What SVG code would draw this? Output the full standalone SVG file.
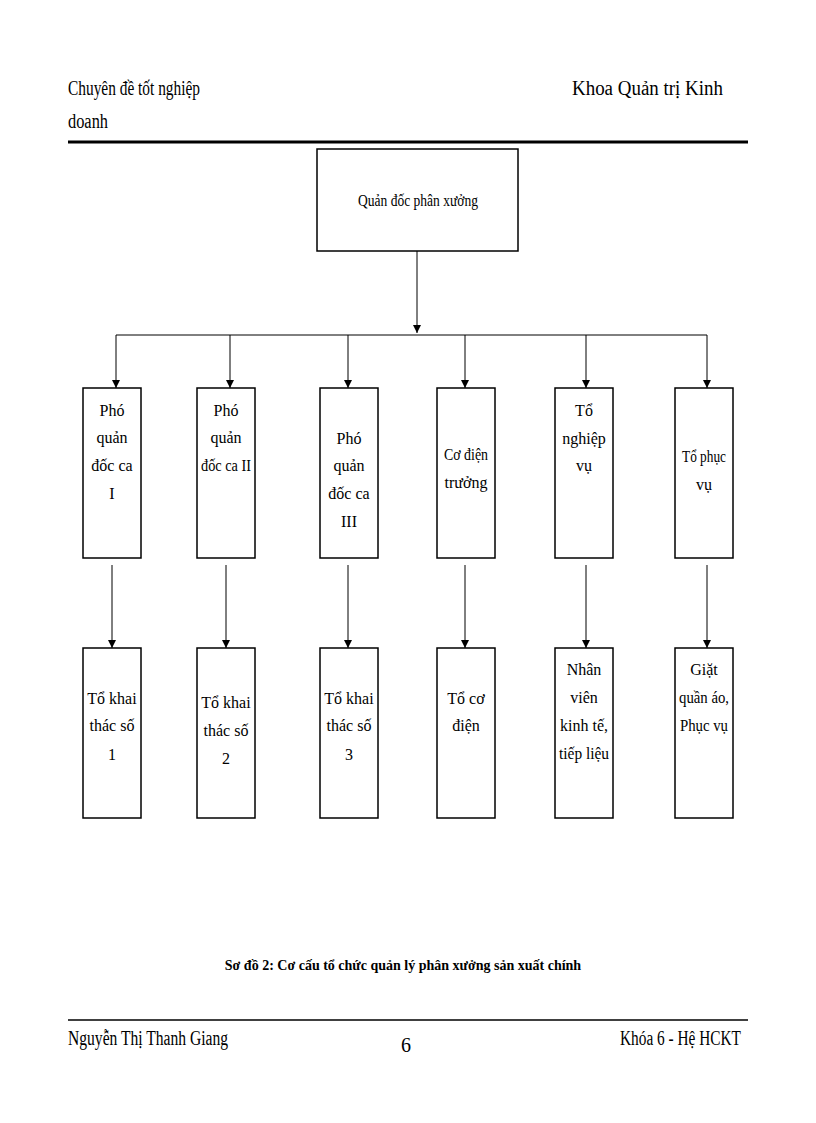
<svg xmlns="http://www.w3.org/2000/svg" width="816" height="1123" viewBox="0 0 816 1123">
<style>
text{font-family:"Liberation Serif","Times New Roman",serif;fill:#000}
.h{font-size:20px}
.n{font-size:16px;text-anchor:middle}
rect{fill:#fff;stroke:#000;stroke-width:1.5}
.c line{stroke:#000;stroke-width:1}
</style>
<defs>
<marker id="b" markerWidth="8" markerHeight="10" refX="8" refY="4" orient="auto" markerUnits="userSpaceOnUse"><path d="M0,0L8,4L0,8z" fill="#000"/></marker></defs>
<text class="h" x="68" y="95" textLength="132" lengthAdjust="spacingAndGlyphs">Chuyên đề tốt nghiệp</text>
<text class="h" x="68" y="128" textLength="40" lengthAdjust="spacingAndGlyphs">doanh</text>
<text class="h" x="572" y="95" textLength="151" lengthAdjust="spacingAndGlyphs">Khoa Quản trị Kinh</text>
<line x1="68" y1="142" x2="748" y2="142" stroke="#000" stroke-width="3"/>
<g class="c">
<line x1="417" y1="251" x2="417" y2="333" marker-end="url(#b)"/>
<line x1="116" y1="335" x2="707" y2="335" stroke-width="2"/>
<line x1="116" y1="335" x2="116" y2="388" marker-end="url(#b)"/>
<line x1="230" y1="335" x2="230" y2="388" marker-end="url(#b)"/>
<line x1="348" y1="335" x2="348" y2="388" marker-end="url(#b)"/>
<line x1="465" y1="335" x2="465" y2="388" marker-end="url(#b)"/>
<line x1="586" y1="335" x2="586" y2="388" marker-end="url(#b)"/>
<line x1="707" y1="335" x2="707" y2="388" marker-end="url(#b)"/>
<line x1="112" y1="565" x2="112" y2="648" marker-end="url(#b)"/>
<line x1="226" y1="565" x2="226" y2="648" marker-end="url(#b)"/>
<line x1="348" y1="565" x2="348" y2="648" marker-end="url(#b)"/>
<line x1="465" y1="565" x2="465" y2="648" marker-end="url(#b)"/>
<line x1="586" y1="565" x2="586" y2="648" marker-end="url(#b)"/>
<line x1="707" y1="565" x2="707" y2="648" marker-end="url(#b)"/>
</g>
<g id="top"><rect x="317" y="149" width="201" height="102"/><text class="n" x="418" y="206" textLength="120" lengthAdjust="spacingAndGlyphs">Quản đốc phân xưởng</text></g>
<g id="p1"><rect x="83" y="388" width="58" height="170"/><text class="n" x="112" y="416">Phó</text><text class="n" x="112" y="443">quản</text><text class="n" x="112" y="471">đốc ca</text><text class="n" x="112" y="499">I</text></g>
<g id="p2"><rect x="197" y="388" width="58" height="170"/><text class="n" x="226" y="416">Phó</text><text class="n" x="226" y="443">quản</text><text class="n" x="226" y="471" textLength="50" lengthAdjust="spacingAndGlyphs">đốc ca II</text></g>
<g id="p3"><rect x="320" y="388" width="58" height="170"/><text class="n" x="349" y="444">Phó</text><text class="n" x="349" y="471">quản</text><text class="n" x="349" y="499">đốc ca</text><text class="n" x="349" y="527">III</text></g>
<g id="p4"><rect x="437" y="388" width="58" height="170"/><text class="n" x="466" y="460" textLength="44" lengthAdjust="spacingAndGlyphs">Cơ điện</text><text class="n" x="466" y="488">trưởng</text></g>
<g id="p5"><rect x="555" y="388" width="58" height="170"/><text class="n" x="584" y="416">Tổ</text><text class="n" x="584" y="444">nghiệp</text><text class="n" x="584" y="471">vụ</text></g>
<g id="p6"><rect x="675" y="388" width="58" height="170"/><text class="n" x="704" y="462" textLength="44" lengthAdjust="spacingAndGlyphs">Tổ phục</text><text class="n" x="704" y="490">vụ</text></g>
<g id="q1"><rect x="83" y="648" width="58" height="170"/><text class="n" x="112" y="704">Tổ khai</text><text class="n" x="112" y="731">thác số</text><text class="n" x="112" y="760">1</text></g>
<g id="q2"><rect x="197" y="648" width="58" height="170"/><text class="n" x="226" y="708">Tổ khai</text><text class="n" x="226" y="736">thác số</text><text class="n" x="226" y="764">2</text></g>
<g id="q3"><rect x="320" y="648" width="58" height="170"/><text class="n" x="349" y="704">Tổ khai</text><text class="n" x="349" y="731">thác số</text><text class="n" x="349" y="760">3</text></g>
<g id="q4"><rect x="437" y="648" width="58" height="170"/><text class="n" x="466" y="704">Tổ cơ</text><text class="n" x="466" y="731">điện</text></g>
<g id="q5"><rect x="555" y="648" width="58" height="170"/><text class="n" x="584" y="675">Nhân</text><text class="n" x="584" y="703">viên</text><text class="n" x="584" y="731">kinh tế,</text><text class="n" x="584" y="759" textLength="50" lengthAdjust="spacingAndGlyphs">tiếp liệu</text></g>
<g id="q6"><rect x="675" y="648" width="58" height="170"/><text class="n" x="704" y="675">Giặt</text><text class="n" x="704" y="703" textLength="50" lengthAdjust="spacingAndGlyphs">quần áo,</text><text class="n" x="704" y="731" textLength="48" lengthAdjust="spacingAndGlyphs">Phục vụ</text></g>
<text x="403" y="970" text-anchor="middle" font-size="14" font-weight="bold">Sơ đồ 2: Cơ cấu tổ chức quản lý phân xưởng sản xuất chính</text>
<line x1="68" y1="1020" x2="748" y2="1020" stroke="#000" stroke-width="1.5"/>
<text class="h" x="68" y="1045" textLength="160" lengthAdjust="spacingAndGlyphs">Nguyễn Thị Thanh Giang</text>
<text class="h" x="406" y="1052" text-anchor="middle">6</text>
<text class="h" x="620" y="1045" textLength="121" lengthAdjust="spacingAndGlyphs">Khóa 6 - Hệ HCKT</text>
</svg>
